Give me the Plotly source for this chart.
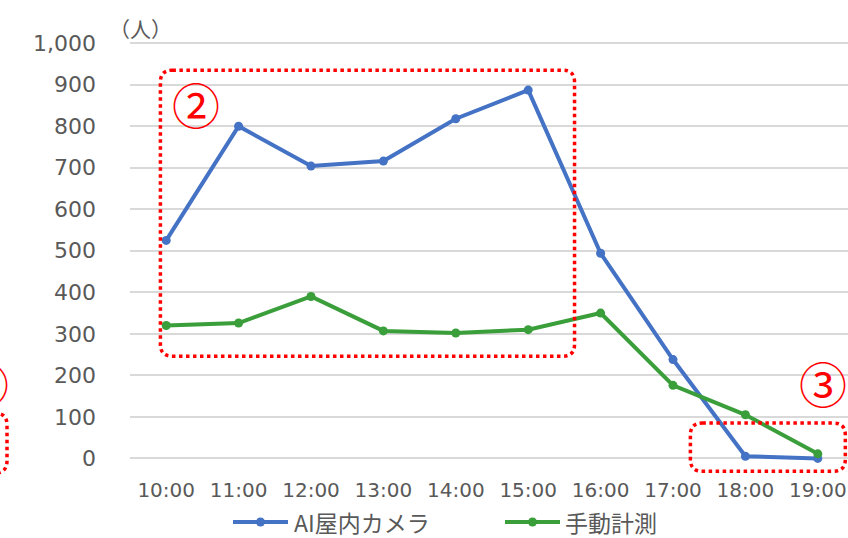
import plotly.graph_objects as go

# Hourly visitor counts
hours = ["10:00", "11:00", "12:00", "13:00", "14:00",
         "15:00", "16:00", "17:00", "18:00", "19:00"]
ai_camera = [525, 800, 704, 716, 818, 887, 494, 238, 5, 0]
manual_count = [320, 326, 390, 307, 302, 310, 350, 176, 105, 11]

series_names = ["AI屋内カメラ", "手動計測"]
series_colors = ["#4472C4", "#3A9E3A"]

y_ticks = list(range(0, 1001, 100))

W, H = 848, 538
M_L, M_R, M_T, M_B = 130, 0, 39, 63
PLOT_W = W - M_L - M_R
PLOT_H = H - M_T - M_B

GRAY = "#595959"
LATIN = "DejaVu Sans"
CJK = "Noto Sans CJK JP"
RED = "#FF0000"


def px_to_paper(px, py):
    return (px - M_L) / PLOT_W, (H - M_B - py) / PLOT_H


def rounded_rect(x0, x1, y0, y1, rx, ry):
    # rounded rectangle as an SVG path (x0<x1, y0<y1)
    return (f"M{x0 + rx},{y1} L{x1 - rx},{y1} Q{x1},{y1} {x1},{y1 - ry} "
            f"L{x1},{y0 + ry} Q{x1},{y0} {x1 - rx},{y0} "
            f"L{x0 + rx},{y0} Q{x0},{y0} {x0},{y0 + ry} "
            f"L{x0},{y1 - ry} Q{x0},{y1} {x0 + rx},{y1} Z")


fig = go.Figure()
for name, vals, col in zip(series_names, [ai_camera, manual_count], series_colors):
    fig.add_trace(go.Scatter(
        x=hours, y=vals, name=name, mode="lines+markers",
        line=dict(color=col, width=4),
        marker=dict(color=col, size=9),
        showlegend=False,
    ))

X_RANGE = [-0.5, 9.417]
Y_RANGE = [-40, 1010]
x_unit = PLOT_W / (X_RANGE[1] - X_RANGE[0])
y_unit = PLOT_H / (Y_RANGE[1] - Y_RANGE[0])

dot_line = dict(color=RED, width=3.5, dash="dot")
shapes = []
# highlighted ranges (data coordinates)
for (x0, x1, y0, y1) in [(-0.08, 5.64, 246, 935), (7.24, 9.38, -31, 85)]:
    shapes.append(dict(type="path", xref="x", yref="y", layer="above",
                       path=rounded_rect(x0, x1, y0, y1, 12 / x_unit, 12 / y_unit),
                       line=dot_line))
# box at the left edge of the page
bx0, by0 = px_to_paper(-60, 473)
bx1, by1 = px_to_paper(7, 413)
shapes.append(dict(type="path", xref="paper", yref="paper", layer="above",
                   path=rounded_rect(bx0, bx1, by0, by1, 12 / PLOT_W, 12 / PLOT_H),
                   line=dot_line))

annotations = []
circ_font = dict(family=CJK, size=48, color=RED)
# circled labels
for txt, x, y in [("②", 0.414, 856), ("③", 9.07, 184)]:
    annotations.append(dict(text=txt, x=x, y=y, xref="x", yref="y",
                            xanchor="center", yanchor="middle",
                            showarrow=False, font=circ_font))
cx, cy = px_to_paper(-15, 382)
annotations.append(dict(text="①", x=cx, y=cy, xref="paper", yref="paper",
                        xanchor="center", yanchor="middle",
                        showarrow=False, font=circ_font))

# unit label
ux, uy = px_to_paper(140, 28)
annotations.append(dict(text="（人）", x=ux, y=uy, xref="paper", yref="paper",
                        xanchor="center", yanchor="middle",
                        showarrow=False, font=dict(family=CJK, size=21, color=GRAY)))

# legend drawn below the axis
legend_items = [(233, 288, 292), (505, 560, 563)]
for (lx0, lx1, tx), name, col in zip(legend_items, series_names, series_colors):
    ax0, ay = px_to_paper(lx0, 522)
    ax1, _ = px_to_paper(lx1, 522)
    shapes.append(dict(type="line", xref="paper", yref="paper",
                       x0=ax0, x1=ax1, y0=ay, y1=ay, line=dict(color=col, width=4)))
    mx, _ = px_to_paper((lx0 + lx1) / 2, 522)
    rx_, ry_ = 4.5 / PLOT_W, 4.5 / PLOT_H
    shapes.append(dict(type="circle", xref="paper", yref="paper",
                       x0=mx - rx_, x1=mx + rx_, y0=ay - ry_, y1=ay + ry_,
                       fillcolor=col, line=dict(color=col, width=0)))
    txp, _ = px_to_paper(tx, 522)
    annotations.append(dict(text=name, x=txp, y=ay, xref="paper", yref="paper",
                            xanchor="left", yanchor="middle", showarrow=False,
                            font=dict(family=CJK, size=23, color=GRAY)))

fig.update_layout(
    width=W, height=H,
    margin=dict(l=M_L, r=M_R, t=M_T, b=M_B),
    paper_bgcolor="white", plot_bgcolor="white",
    shapes=shapes, annotations=annotations,
    showlegend=False,
)
fig.update_xaxes(
    type="category", range=X_RANGE, showgrid=False, showline=False, zeroline=False,
    ticks="", tickfont=dict(family=LATIN, size=20, color=GRAY), ticklabelstandoff=1,
)
fig.update_yaxes(
    range=Y_RANGE, tickvals=y_ticks, tickformat=",d",
    showgrid=True, gridcolor="#D9D9D9", gridwidth=1.5,
    zeroline=False, showline=False, ticks="",
    tickfont=dict(family=LATIN, size=22, color=GRAY), ticklabelstandoff=33,
)

fig.write_html("out.html")
